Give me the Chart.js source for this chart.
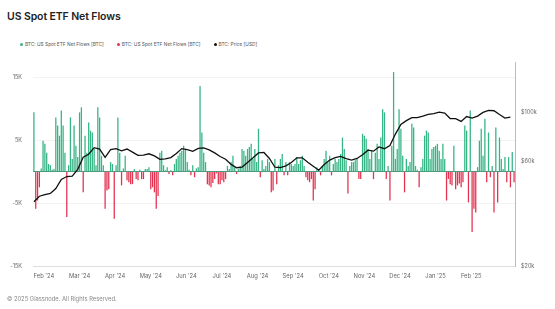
<!DOCTYPE html>
<html>
<head>
<meta charset="utf-8">
<script src="https://cdn.jsdelivr.net/npm/chart.js@4.4.1/dist/chart.umd.min.js"></script>
<style>
  html, body { margin: 0; padding: 0; background: #fff; }
  body { width: 555px; height: 309px; position: relative; overflow: hidden; font-family: Inter, "Open Sans", sans-serif; }
  #titre { position: absolute; left: 7px; top: 10px; font-size: 10.5px; font-weight: 600; color: #222; letter-spacing: -0.1px; }
  #legende { position: absolute; left: 20px; top: 41px; display: flex; gap: 13px; font-size: 4.8px; color: #555; }
  .item { display: flex; align-items: center; gap: 2px; }
  .pastille { width: 3px; height: 3px; border-radius: 50%; display: inline-block; }
  #pied { position: absolute; left: 7px; top: 295px; font-size: 5.8px; color: #888; }
  #zone { position: absolute; left: 0; top: 0; width: 555px; height: 309px; }
</style>
</head>
<body>
<div id="titre">US Spot ETF Net Flows</div>
<div id="legende"></div>
<div id="zone"><canvas id="graphique" width="555" height="309"></canvas></div>
<div id="pied">© 2025 Glassnode. All Rights Reserved.</div>

<script>
// ================================
// DONNÉES
// ================================

// flux nets quotidiens (BTC), un par séance, à partir du 23 janv. 2024
const flux = [
  9400, -5900, -4600, -2500, 500, 4900, 4400, 3000, 1200, 1000,
  300, 400, 8600, 7300, 5700, 9700, 7300, 3000, -7200, 1000,
  8600, 2000, 7300, 4100, 2300, 9400, 10200, -3300, 5700, 3000,
  7800, 6500, 6200, 3600, 1000, 10200, 8600, 2500, 1000, -5900,
  -3000, -2800, 1500, 1200, -7500, 1000, 8600, 3000, -2200, 500,
  2500, -1400, -1700, -2000, -2000, 400, -1200, -1400, 300, -1200,
  -1200, 400, 400, 700, -2800, -2500, -3300, -5900, -3900, 3000,
  3300, 1000, 200, 700, -400, 200, -600, 1200, 2000, 2500,
  3000, 3300, 4100, 3600, 1500, 300, -600, 1000, -900, 500,
  700, 13600, 6200, 3000, 1500, -2000, -2200, -2500, -1800, -1200,
  -300, -2000, -2000, -1400, -1700, -1200, 900, 400, 1500, 2500,
  700, -400, 400, 900, 3600, 3300, 2500, 3600, 3900, 4400,
  2000, 3600, 1500, 6800, -900, 1800, 400, 900, 2000, 1500,
  -3300, -3000, 2000, -2000, 1000, 2000, 2800, -600, 1500, -600,
  1500, 1200, 900, 1200, 2300, 1200, 1800, 2500, 900, -900,
  -1400, -1700, -1200, -4600, -2800, 700, 400, -600, 900, 2000,
  3300, 1500, 2500, -600, 1200, 2000, 1500, 2000, 2800, 5400,
  3600, 1800, -3500, 900, 1500, 1500, 1800, 2000, -1200, -1200,
  6000, 5700, 5200, 3600, 2000, 3300, -1200, 3000, 4400, 2000,
  5400, 9900, 9400, -1200, 900, -4600, 4100, 15800, 2000, 3600,
  9900, 6800, 2500, -3300, 2000, 900, 1500, 7600, 7000, 900,
  300, -2500, 700, 2000, 5700, 6500, 6200, 2000, 3600, 3900,
  4100, 4400, 3300, 2000, 4400, 2000, -4600, -1200, -2000, -2200,
  4100, -2800, -2200, -1900, -2500, -1700, 7300, 6500, -4900, 9700,
  -9600, -5900, -6500, 700, 4900, 6800, 2500, 8400, -1700, 6200,
  -900, 900, -6500, 7000, -4900, 5400, 2000, 400, 2300, -1700,
  2300, -2500, 3100, -1700
];

// prix BTC (USD), relevé toutes les 3 séances
const pasPrix = 3;
const prix = [
  39200, 41500, 42200, 42700, 45000, 49500, 51000, 51200, 55000, 62400,
  64400, 69000, 68000, 62300, 67600, 68300, 66700, 68000, 65800, 63600,
  63800, 64700, 63300, 61000, 61300, 62200, 64900, 68300, 67600, 66400,
  68500, 68800, 67400, 65300, 62900, 61100, 57900, 55900, 56300, 59000,
  62000, 65300, 65600, 61600, 56200, 56000, 57000, 59000, 62000, 62000,
  59200, 56800, 54500, 57800, 60600, 62100, 63000, 61500, 60600, 61600,
  64000, 67200, 66500, 69500, 68200, 70500, 79500, 88000, 91500, 94500,
  94500, 96000, 97700, 98500, 100000, 99000, 93500, 93400, 90800, 95500,
  94000, 96000, 99800, 101800, 101500, 97500, 94000, 95000
];

const moisLabels = ["Feb '24", "Mar '24", "Apr '24", "May '24", "Jun '24", "Jul '24",
  "Aug '24", "Sep '24", "Oct '24", "Nov '24", "Dec '24", "Jan '25", "Feb '25"];
const premierMois = 5.5;
const pasMois = 19.5;

const ticksFlux = [-15000, -5000, 0, 5000, 15000];
const ticksPrix = [20000, 60000, 100000];

const COULEURS = {
  entree: '#36b486',
  sortie: '#e3324f',
  prix: '#111111'
};

// ================================
// LÉGENDE
// ================================

const series = [
  { nom: 'BTC: US Spot ETF Net Flows [BTC]', couleur: COULEURS.entree },
  { nom: 'BTC: US Spot ETF Net Flows [BTC]', couleur: COULEURS.sortie },
  { nom: 'BTC: Price [USD]', couleur: COULEURS.prix }
];
const legende = document.getElementById('legende');
series.forEach(function(s) {
  const el = document.createElement('div');
  el.className = 'item';
  el.innerHTML = `<span class="pastille" style="background:${s.couleur}"></span><span>${s.nom}</span>`;
  legende.appendChild(el);
});

// ================================
// GRAPHIQUE
// ================================

const entrees = flux.map(function(v, i) { return { x: i, y: v > 0 ? v : null }; });
const sorties = flux.map(function(v, i) { return { x: i, y: v < 0 ? v : null }; });
const courbePrix = prix.map(function(v, i) { return { x: i * pasPrix, y: v }; });

new Chart(document.getElementById('graphique'), {
  data: {
    datasets: [
      {
        type: 'line',
        label: 'BTC: Price [USD]',
        data: courbePrix,
        yAxisID: 'prix',
        borderColor: COULEURS.prix,
        borderWidth: 1.3,
        pointRadius: 0,
        tension: 0,
        order: 0
      },
      {
        type: 'bar',
        label: 'entrées',
        data: entrees,
        yAxisID: 'flux',
        backgroundColor: COULEURS.entree,
        barPercentage: 0.7,
        categoryPercentage: 1,
        grouped: false,
        order: 1
      },
      {
        type: 'bar',
        label: 'sorties',
        data: sorties,
        yAxisID: 'flux',
        backgroundColor: COULEURS.sortie,
        barPercentage: 0.7,
        categoryPercentage: 1,
        grouped: false,
        order: 1
      }
    ]
  },
  options: {
    responsive: false,
    animation: false,
    layout: { padding: { left: 5, right: 0, top: 62, bottom: 0 } },
    plugins: {
      legend: { display: false },
      tooltip: { enabled: false }
    },
    scales: {
      x: {
        type: 'linear',
        offset: false,
        min: -0.5,
        max: flux.length - 0.5,
        afterBuildTicks: function(s) {
          s.ticks = moisLabels.map(function(_, i) { return { value: premierMois + i * pasMois }; });
        },
        afterFit: function(s) { s.height = 43; },
        ticks: {
          autoSkip: false,
          maxRotation: 0,
          padding: 7,
          color: '#666',
          font: { family: 'Inter', size: 5.8 },
          callback: function(v, i) { return moisLabels[i]; }
        },
        grid: { display: false, drawTicks: false },
        border: { display: true, color: '#dddddd' }
      },
      flux: {
        type: 'linear',
        position: 'left',
        min: -15000,
        max: 17400,
        afterBuildTicks: function(s) {
          s.ticks = ticksFlux.map(function(v) { return { value: v }; });
        },
        afterFit: function(s) { s.width = 28; },
        ticks: {
          padding: 11,
          color: '#666',
          font: { family: 'Inter', size: 5.5 },
          callback: function(v) { return v === 0 ? '' : (v / 1000) + 'K'; }
        },
        grid: {
          drawTicks: false,
          color: function(c) { return c.tick && c.tick.value === 0 ? '#4f9a7d' : '#f3f3f3'; }
        },
        border: { display: false }
      },
      prix: {
        type: 'logarithmic',
        position: 'right',
        min: 20000,
        max: 169000,
        afterBuildTicks: function(s) {
          s.ticks = ticksPrix.map(function(v) { return { value: v }; });
        },
        afterFit: function(s) { s.width = 40; },
        ticks: {
          padding: 6,
          color: '#666',
          font: { family: 'Inter', size: 5.5 },
          callback: function(v) { return '$' + (v / 1000) + 'k'; }
        },
        grid: { display: false, drawTicks: false },
        border: { display: true, color: '#bbbbbb', width: 1 }
      }
    }
  }
});
</script>
</body>
</html>
